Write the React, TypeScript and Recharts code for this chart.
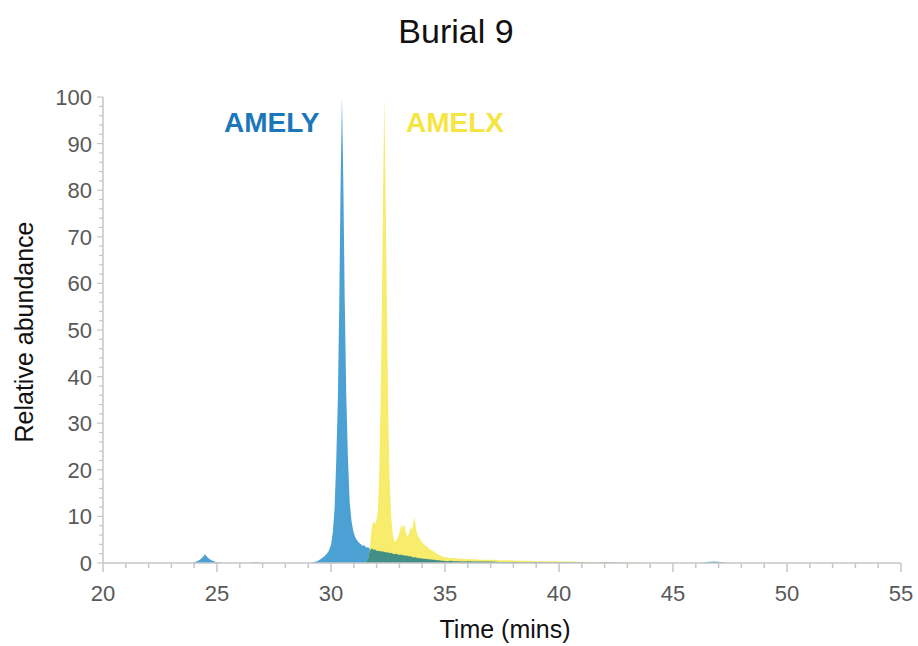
import { AreaChart, Area, XAxis, YAxis } from "recharts";

// retention time (mins) and relative abundance for both peptides
const timeMins = [
  20, 23.9, 24.1, 24.25, 24.38, 24.47, 24.55, 24.65, 24.8, 24.95,
  25.1, 25.3, 26.4, 26.6, 26.8, 27.0, 29.1, 29.25, 29.4, 29.5,
  29.6, 29.7, 29.8, 29.9, 30.0, 30.08, 30.16, 30.23, 30.3, 30.36,
  30.42, 30.48, 30.54, 30.6, 30.67, 30.74, 30.82, 30.9, 30.98, 31.06,
  31.14, 31.22, 31.3, 31.38, 31.46, 31.54, 31.62, 31.7, 31.76, 31.82,
  31.88, 31.94, 32.0, 32.06, 32.12, 32.18, 32.24, 32.29, 32.34, 32.39,
  32.45, 32.51, 32.57, 32.64, 32.71, 32.78, 32.86, 32.94, 33.02, 33.09,
  33.15, 33.21, 33.28, 33.35, 33.42, 33.49, 33.55, 33.61, 33.67, 33.73,
  33.8, 33.88, 33.96, 34.05, 34.15, 34.25, 34.35, 34.45, 34.55, 34.65,
  34.75, 34.85, 34.95, 35.1, 35.25, 35.4, 35.6, 35.8, 36.0, 36.3,
  36.6, 37.0, 37.4, 37.8, 38.2, 38.6, 39.0, 39.5, 40.0, 40.5,
  41.0, 41.5, 42.0, 43.0, 44.0, 45.0, 46.2, 46.5, 46.8, 47.1,
  47.4, 48.0, 55,
];

const amelyAbundance = [
  0, 0, 0.3, 0.7, 1.3, 1.9, 1.4, 0.9, 0.5, 0.2,
  0.1, 0, 0, 0.1, 0.1, 0, 0, 0.2, 0.4, 0.7,
  1.0, 1.4, 1.9, 2.6, 3.9, 6.5, 12, 22, 35, 55,
  81, 100, 82, 57, 36, 23, 13, 9, 6.8, 5.6,
  4.9, 4.4, 4.1, 3.7, 3.8, 3.3, 3.4, 3.1, 3.0, 3.1,
  2.8, 2.9, 2.6, 2.7, 2.5, 2.6, 2.4, 2.5, 2.3, 2.4,
  2.2, 2.3, 2.1, 2.2, 2.0, 1.9, 2.0, 1.8, 1.7, 1.8,
  1.6, 1.7, 1.5, 1.6, 1.4, 1.5, 1.3, 1.2, 1.3, 1.1,
  1.1, 1.0, 1.0, 0.9, 0.9, 0.8, 0.8, 0.7, 0.7, 0.6,
  0.6, 0.5, 0.5, 0.4, 0.5, 0.4, 0.4, 0.3, 0.4, 0.3,
  0.3, 0.3, 0.2, 0.2, 0.2, 0.1, 0.2, 0.1, 0.1, 0.1,
  0.1, 0, 0.1, 0, 0, 0, 0, 0.2, 0.3, 0.2,
  0, 0, 0,
];

const amelxAbundance = [
  0, 0, 0, 0, 0, 0, 0, 0, 0, 0,
  0, 0, 0, 0, 0, 0, 0, 0, 0, 0,
  0, 0, 0, 0, 0, 0, 0, 0, 0, 0,
  0, 0, 0, 0, 0, 0, 0, 0, 0, 0,
  0, 0, 0, 0, 0, 0.3, 0.8, 2.6, 6.5, 8.4,
  8.9, 8.3, 9.4, 11.5, 20, 36, 59, 82, 100, 81,
  56, 33, 18, 10, 6, 4.6, 4.8, 5.6, 6.8, 8.2,
  7.4, 8.4, 6.6, 5.7, 6.2, 7.9, 6.9, 8.6, 9.8, 7.2,
  5.9, 5.3, 4.6, 4.2, 3.7, 3.4, 2.9, 2.7, 2.3, 2.0,
  1.7, 1.5, 1.3, 1.2, 1.0, 1.1, 0.9, 0.9, 0.8, 0.8,
  0.7, 0.7, 0.6, 0.6, 0.5, 0.5, 0.4, 0.4, 0.3, 0.3,
  0.2, 0.2, 0.1, 0.1, 0, 0, 0, 0, 0, 0,
  0, 0, 0,
];

const xTicks = Array.from({ length: 36 }, (_, i) => 20 + i);
const yTicks = Array.from({ length: 51 }, (_, i) => i * 2);

const FONT = "'Liberation Sans', Arial, Helvetica, sans-serif";
const AXIS_GREY = "#c6c6c6";
const LABEL_GREY = "#595959";

// the overlap (where both traces sit on top of each other) shows as a darker teal
const chartData = timeMins.map((t, i) => ({
  t,
  amely: amelyAbundance[i],
  amelx: amelxAbundance[i],
  overlap: Math.min(amelyAbundance[i], amelxAbundance[i]),
}));

function XTick(props: any) {
  const { x, y, payload } = props;
  const major = payload.value % 5 === 0;
  return (
    <g>
      <line x1={x} x2={x} y1={y} y2={y + (major ? 9 : 5)} stroke={AXIS_GREY} strokeWidth={1.5} />
      {major && (
        <text x={x} y={y + 38} textAnchor="middle" fill={LABEL_GREY} fontSize={22} fontFamily={FONT}>
          {payload.value}
        </text>
      )}
    </g>
  );
}

function YTick(props: any) {
  const { x, y, payload } = props;
  const major = payload.value % 10 === 0;
  return (
    <g>
      <line x1={x} x2={x - (major ? 6 : 4)} y1={y} y2={y} stroke={AXIS_GREY} strokeWidth={1.2} />
      {major && (
        <text x={x - 11} y={y + 8} textAnchor="end" fill={LABEL_GREY} fontSize={22} fontFamily={FONT}>
          {payload.value}
        </text>
      )}
    </g>
  );
}

export default function App() {
  return (
    <div style={{ position: "absolute", left: 0, top: 0, width: 918, height: 646, fontFamily: FONT }}>
      <AreaChart
        width={918}
        height={646}
        data={chartData}
        margin={{ top: 97, right: 17, left: 43, bottom: 43 }}
      >
        <XAxis
          type="number"
          dataKey="t"
          domain={[20, 55]}
          ticks={xTicks}
          interval={0}
          allowDataOverflow
          height={40}
          tickSize={0}
          tickMargin={0}
          tickLine={false}
          axisLine={{ stroke: AXIS_GREY, strokeWidth: 1.5 }}
          tick={(p: any) => <XTick {...p} />}
        />
        <YAxis
          type="number"
          domain={[0, 100]}
          ticks={yTicks}
          interval={0}
          width={60}
          tickSize={0}
          tickMargin={0}
          tickLine={false}
          axisLine={{ stroke: AXIS_GREY, strokeWidth: 1.5 }}
          tick={(p: any) => <YTick {...p} />}
        />
        <Area
          type="linear"
          dataKey="amely"
          fill="#4ba1d3"
          fillOpacity={1}
          stroke="none"
          dot={false}
          isAnimationActive={false}
        />
        <Area
          type="linear"
          dataKey="amelx"
          fill="#f7ec6c"
          fillOpacity={1}
          stroke="none"
          dot={false}
          isAnimationActive={false}
        />
        <Area
          type="linear"
          dataKey="overlap"
          fill="#428f86"
          fillOpacity={1}
          stroke="none"
          dot={false}
          isAnimationActive={false}
        />
      </AreaChart>
      <svg
        width={918}
        height={646}
        style={{ position: "absolute", left: 0, top: 0, pointerEvents: "none" }}
        fontFamily={FONT}
      >
        <text x={456} y={43} textAnchor="middle" fontSize={34} fill="#111">
          Burial 9
        </text>
        <text x={224} y={132} fontSize={28} fontWeight="bold" fill="#1c76ba">
          AMELY
        </text>
        <text x={406} y={132} fontSize={28} fontWeight="bold" fill="#f4e540">
          AMELX
        </text>
        <text x={33} y={332} textAnchor="middle" fontSize={25} fill="#111" transform="rotate(-90 33 332)">
          Relative abundance
        </text>
        <text x={505} y={638} textAnchor="middle" fontSize={25} fill="#111">
          Time (mins)
        </text>
      </svg>
    </div>
  );
}
